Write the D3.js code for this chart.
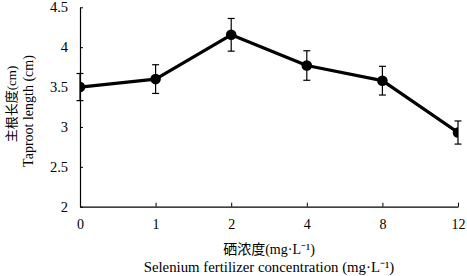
<!DOCTYPE html>
<html><head><meta charset="utf-8">
<script src="https://cdn.jsdelivr.net/npm/d3@7"></script>
<style>body{margin:0;background:#fff}</style>
</head><body>
<svg id="c" width="467" height="276"></svg>
<script>
const categories = ["0","1","2","4","8","12"];
const values = [3.50, 3.60, 4.155, 3.77, 3.58, 2.93];
const errors = [0.17, 0.18, 0.205, 0.185, 0.18, 0.145];
const yTicks = [2, 2.5, 3, 3.5, 4, 4.5];
const yTitle = ["主根长度(cm)", "Taproot length (cm)"];
const xTitle = ["硒浓度(mg·L⁻¹)", "Selenium fertilizer concentration (mg·L⁻¹)"];

const SERIF = "'Liberation Serif', 'Times New Roman', 'Noto Sans CJK SC', serif";
const svg = d3.select("#c");
const L = 80, R = 458, T = 7.3, B = 206.7;
const x = d3.scalePoint().domain(categories).range([L, R]);
const y = d3.scaleLinear().domain([2, 4.5]).range([B, T]);

svg.append("defs").append("clipPath").attr("id","clip")
  .append("rect").attr("x", L).attr("y", 0).attr("width", R - L).attr("height", B);

// axes
const yAxis = svg.append("g").attr("transform", `translate(${L},0)`)
  .call(d3.axisLeft(y).tickValues(yTicks).tickSizeInner(-3).tickSizeOuter(0).tickPadding(12).tickFormat(d3.format("")));
const xAxis = svg.append("g").attr("transform", `translate(0,${B})`)
  .call(d3.axisBottom(x).tickSizeInner(-4).tickSizeOuter(0).tickPadding(12));
[yAxis, xAxis].forEach(a => {
  a.attr("font-family", null).attr("font-size", null);
  a.select(".domain").attr("stroke", "#000").attr("stroke-width", 1.2);
  a.selectAll(".tick line").attr("stroke", "#000").attr("stroke-width", 1);
  a.selectAll(".tick text").style("font-family", SERIF).style("font-size", "14.5px").attr("fill", "#000");
});
xAxis.selectAll(".tick text").style("font-size", "14px");

const g = svg.append("g").attr("clip-path", "url(#clip)");
const data = categories.map((c, i) => ({c, v: values[i], e: errors[i]}));

g.append("path").datum(data)
  .attr("fill", "none").attr("stroke", "#000").attr("stroke-width", 3.2).attr("stroke-linejoin", "round")
  .attr("d", d3.line().x(d => x(d.c)).y(d => y(d.v)));

g.selectAll("circle").data(data).join("circle")
  .attr("cx", d => x(d.c)).attr("cy", d => y(d.v)).attr("r", 5.3).attr("fill", "#000");

// error bars (not clipped)
const eb = svg.append("g").attr("stroke", "#000").attr("stroke-width", 1.2);
data.forEach(d => {
  const cx = x(d.c);
  eb.append("line").attr("x1", cx).attr("x2", cx).attr("y1", y(d.v + d.e)).attr("y2", y(d.v - d.e));
  [d.v + d.e, d.v - d.e].forEach(v => {
    eb.append("line").attr("x1", cx - 3.5).attr("x2", cx + 3.5).attr("y1", y(v)).attr("y2", y(v));
  });
});

// titles
svg.append("text").attr("transform", "translate(16,104) rotate(-90)").attr("text-anchor", "middle")
  .style("font-family", SERIF).style("font-size", "13px").text(yTitle[0]);
svg.append("text").attr("transform", "translate(33,111) rotate(-90)").attr("text-anchor", "middle")
  .style("font-family", SERIF).style("font-size", "14px").text(yTitle[1]);

const cxT = (L + R) / 2;
svg.append("text").attr("x", cxT).attr("y", 254).attr("text-anchor", "middle")
  .style("font-family", SERIF).style("font-size", "14px").text(xTitle[0]);
svg.append("text").attr("x", cxT).attr("y", 272).attr("text-anchor", "middle")
  .style("font-family", SERIF).style("font-size", "14.8px").text(xTitle[1]);
</script>
</body></html>
